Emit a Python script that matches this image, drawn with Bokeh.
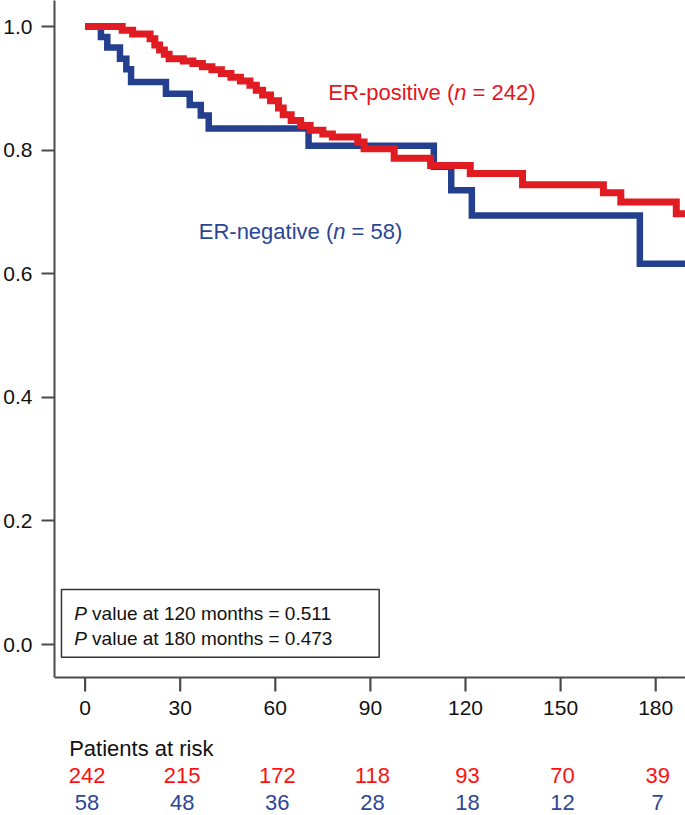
from bokeh.plotting import figure
from bokeh.models import Range1d, FixedTicker
from bokeh.embed import file_html
from bokeh.resources import INLINE
from bokeh.core.properties import value

# ---------------- data ----------------
er_pos_time = [0, 11.7, 15, 20.5, 22, 23.5, 25, 26.5, 31, 34, 37, 40, 43, 46, 49, 52, 54, 56,
               58.5, 61, 62.5, 65, 68, 71, 75, 78, 86, 88, 97.5, 109, 121.5, 138, 163.5, 169,
               186.5, 190]
er_pos_surv = [1.0, 0.994, 0.988, 0.980, 0.970, 0.962, 0.955, 0.948, 0.944, 0.940, 0.935, 0.930,
               0.924, 0.918, 0.912, 0.905, 0.897, 0.889, 0.880, 0.868, 0.857, 0.848, 0.840, 0.832,
               0.826, 0.821, 0.813, 0.802, 0.787, 0.775, 0.762, 0.744, 0.731, 0.716, 0.697, 0.697]

er_neg_time = [0, 5, 7, 11, 13, 14.5, 25.5, 33, 36.5, 39, 70.5, 110, 115.5, 122, 175, 190]
er_neg_surv = [1.0, 0.983, 0.966, 0.948, 0.931, 0.910, 0.891, 0.873, 0.856, 0.835, 0.807,
               0.773, 0.735, 0.694, 0.616, 0.616]

x_ticks = [0, 30, 60, 90, 120, 150, 180]
x_tick_labels = ["0", "30", "60", "90", "120", "150", "180"]
y_ticks = [0.0, 0.2, 0.4, 0.6, 0.8, 1.0]
y_tick_labels = ["0.0", "0.2", "0.4", "0.6", "0.8", "1.0"]

risk_pos = [242, 215, 172, 118, 93, 70, 39]
risk_neg = [58, 48, 36, 28, 18, 12, 7]

label_pos = ["ER-positive (", "n", " = 242)"]
label_neg = ["ER-negative (", "n", " = 58)"]
pval_lines = [["P", " value at 120 months = 0.511"], ["P", " value at 180 months = 0.473"]]
risk_title = "Patients at risk"

# ---------------- styling ----------------
RED_LINE = "#E11B22"
BLUE_LINE = "#233F8E"
RED_TEXT = "#E3161E"
BLUE_TEXT = "#2B4697"
RED_RISK = "#FF1010"
BLUE_RISK = "#2E4795"
FONT = "Liberation Sans"
AXIS_COL = "#4a4a4a"

TOTAL_W, TOTAL_H = 685, 815

# Arial / Liberation Sans advance widths (em)
W = {'E': .667, 'R': .722, '-': .333, 'p': .556, 'o': .556, 's': .5, 'i': .222, 't': .278,
     'v': .5, 'e': .556, ' ': .278, '(': .333, ')': .333, 'n': .556, '=': .584, 'g': .556,
     'a': .556, 'P': .667, 'l': .222, 'u': .556, 'm': .833, 'h': .556, '.': .278}
for d in "0123456789":
    W[d] = .556


def tw(s, size):
    return sum(W.get(c, .556) for c in s) * size


def px_t(px):  # horizontal pixel -> months
    return (px - 82.7) / 3.18


def px_s(py):  # vertical pixel -> survival
    return (644.0 - py) / 618.0


def mid(baseline_px, size):  # text-middle position for a given baseline
    return px_s(baseline_px - 0.3465 * size)


AXIS_Y = px_s(677)          # where the time axis sits
X0 = px_t(52)

p = figure(width=TOTAL_W, height=TOTAL_H,
           x_range=Range1d(X0, px_t(685)), y_range=Range1d(px_s(815), px_s(0)),
           output_backend="svg", toolbar_location=None, title=None,
           x_axis_location=None,
           min_border_left=52, min_border_right=0, min_border_top=0,
           min_border_bottom=0)
p.outline_line_color = None
p.grid.visible = False
p.background_fill_color = "white"
p.border_fill_color = "white"

# y axis (bounded to the plotting area)
ax = p.yaxis[0]
ax.bounds = (AXIS_Y, px_s(0))
ax.ticker = FixedTicker(ticks=y_ticks)
ax.major_label_overrides = {t: l for t, l in zip(y_ticks, y_tick_labels)}
ax.axis_line_color = AXIS_COL
ax.axis_line_width = 2
ax.major_tick_line_color = AXIS_COL
ax.major_tick_line_width = 2.2
ax.major_tick_in = 0
ax.major_tick_out = 13
ax.minor_tick_in = 0
ax.minor_tick_out = 0
ax.major_label_standoff = 9
ax.major_label_text_font = FONT
ax.major_label_text_font_size = "21px"
ax.major_label_text_color = "#111111"

# time axis: line, ticks and labels placed through the data scales
p.segment(x0=[X0], y0=[AXIS_Y], x1=[px_t(700)], y1=[AXIS_Y],
          line_color=AXIS_COL, line_width=2)
p.segment(x0=x_ticks, y0=[AXIS_Y] * len(x_ticks), x1=x_ticks,
          y1=[px_s(691)] * len(x_ticks), line_color=AXIS_COL, line_width=2.2)
p.text(x=x_ticks, y=[mid(714.5, 21)] * len(x_ticks), text=x_tick_labels,
       text_color="#111111", text_font=value(FONT), text_font_size="21px",
       text_align="center", text_baseline="middle")

# curves
p.step(er_neg_time, er_neg_surv, mode="after", line_color=BLUE_LINE, line_width=6.5,
       line_join="miter")
p.step(er_pos_time, er_pos_surv, mode="after", line_color=RED_LINE, line_width=7,
       line_join="miter")


# labels with mixed italic parts (leading spaces turned into offsets)
def mixed_label(fig, x, baseline, parts, color, size):
    off = 0.0
    for part in parts:
        style = "italic" if part in ("n", "P") else "normal"
        stripped = part.lstrip(" ")
        off += tw(part[:len(part) - len(stripped)], size)
        fig.text(x=[x], y=[mid(baseline, size)], text=[stripped], x_offset=off,
                 text_color=color, text_font=value(FONT), text_font_size=f"{size}px",
                 text_font_style=style, text_align="left", text_baseline="middle")
        off += tw(stripped, size)


mixed_label(p, px_t(326.7), 99.5, label_pos, RED_TEXT, 22)
mixed_label(p, px_t(196.7), 238.5, label_neg, BLUE_TEXT, 22)

# p-value box
p.quad(left=[px_t(59)], right=[px_t(377.7)], top=[px_s(589)], bottom=[px_s(656.7)],
       fill_color="white", line_color="#333333", line_width=1.5)
for line, base in zip(pval_lines, [620, 645]):
    mixed_label(p, px_t(71.7), base, line, "#111111", 19)

# ---------------- risk table ----------------
p.text(x=[px_t(66.7)], y=[mid(756, 22)], text=[risk_title], text_color="#111111",
       text_font=value(FONT), text_font_size="22px", text_align="left",
       text_baseline="middle")
p.text(x=x_ticks, y=[mid(783, 22)] * len(x_ticks), text=[str(v) for v in risk_pos],
       text_color=RED_RISK, text_font=value(FONT), text_font_size="22px",
       text_align="center", text_baseline="middle", x_offset=2)
p.text(x=x_ticks, y=[mid(809.5, 22)] * len(x_ticks), text=[str(v) for v in risk_neg],
       text_color=BLUE_RISK, text_font=value(FONT), text_font_size="22px",
       text_align="center", text_baseline="middle", x_offset=2)

open("out.html", "w").write(file_html(p, INLINE))
